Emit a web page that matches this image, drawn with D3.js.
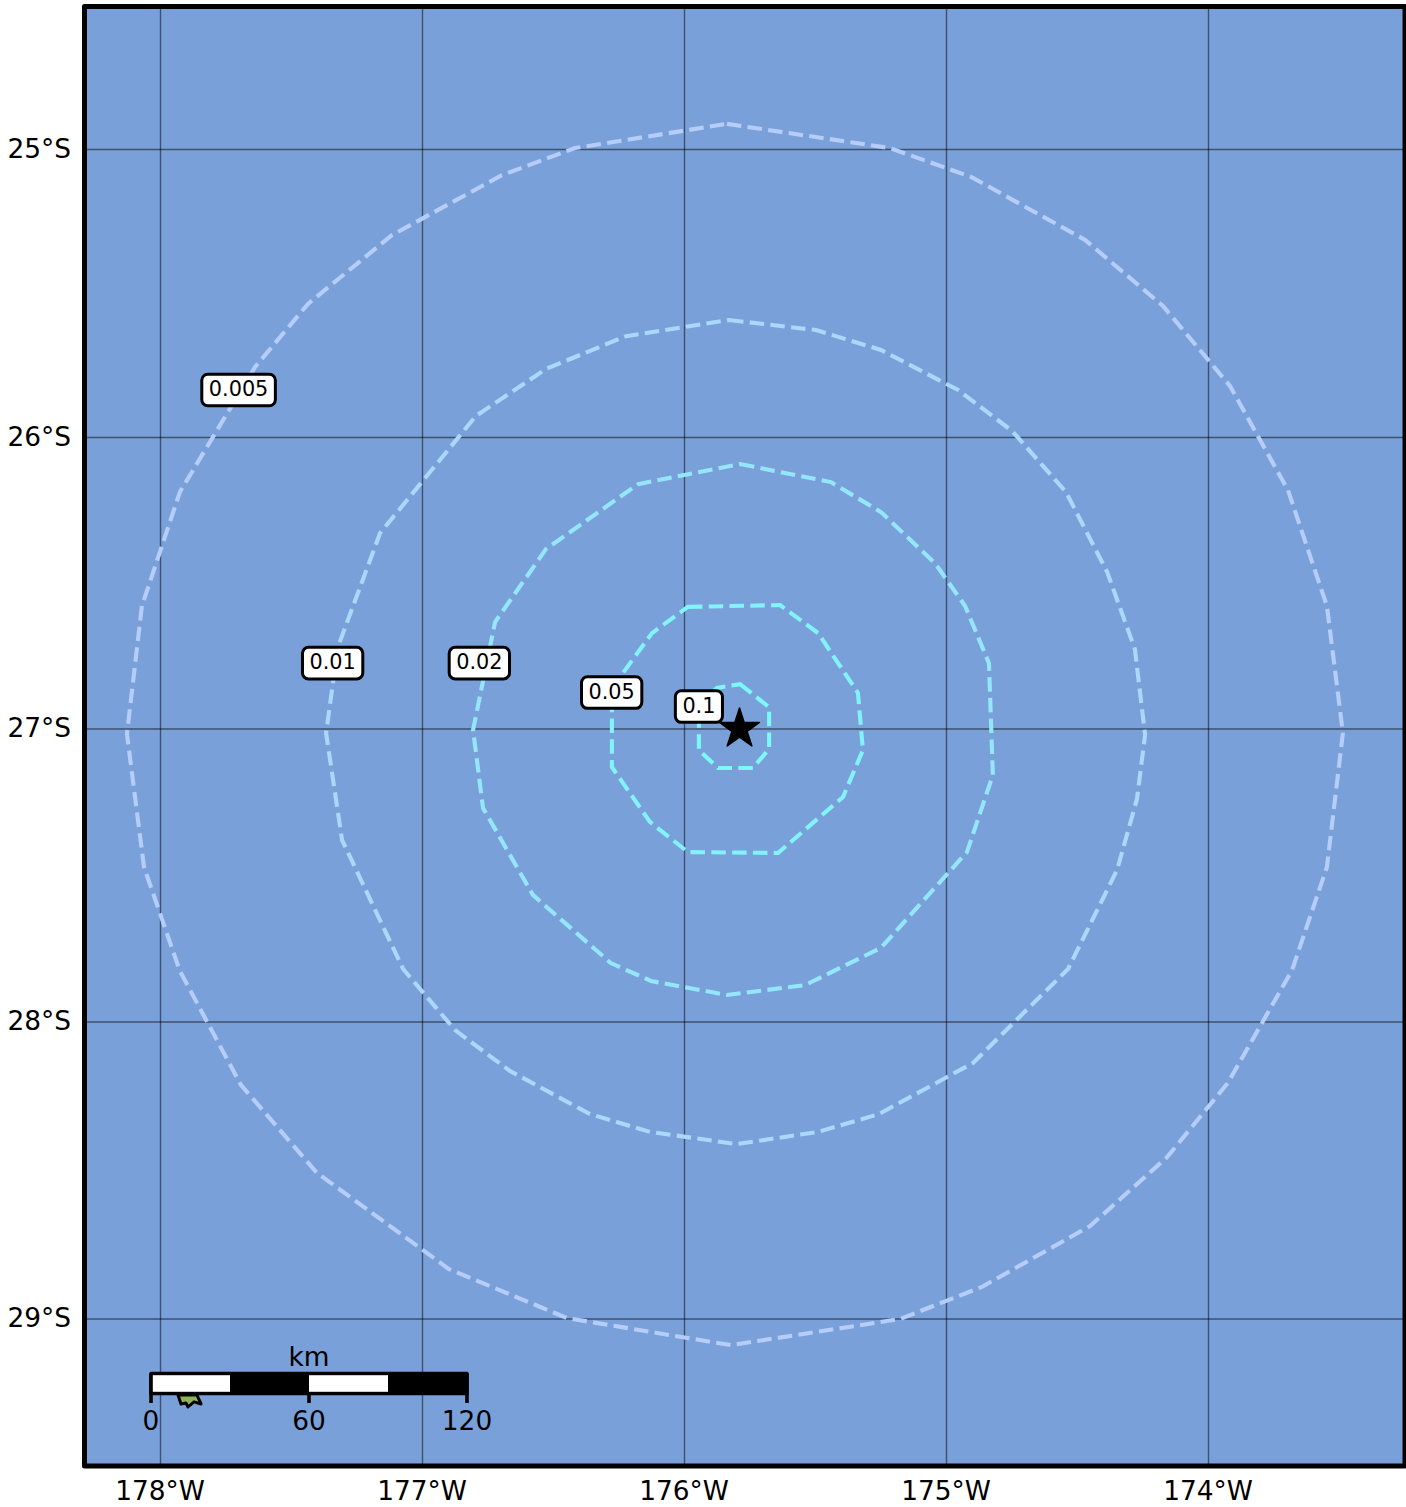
<!DOCTYPE html>
<html lang="en">
<head>
<meta charset="UTF-8">
<title>Contour map</title>
<script src="https://cdn.jsdelivr.net/npm/d3@7/dist/d3.min.js"></script>
<style>
    body { margin: 0; background: #fff; }
    svg { display: block; }
    text { font-family: "DejaVu Sans", sans-serif; fill: #000; }
</style>
</head>
<body>
<div id="chart"></div>
<script>
// tick positions in degrees
var lonTicks = [-178, -177, -176, -175, -174];
var latTicks = [-25, -26, -27, -28, -29];

// contour levels, outermost first
var levels = ["0.005", "0.01", "0.02", "0.05", "0.1"];
var levelColors = ["#b5cdf8", "#a9d8fb", "#94e6fc", "#82f2fc", "#7cf8fc"];

var lon005 = [-175.838,-175.216,-174.906,-174.471,-174.174,-173.918,-173.697,-173.548,-173.487,-173.548,-173.681,-173.926,-174.158,-174.452,-174.865,-175.177,-175.823,-176.448,-176.899,-177.403,-177.693,-177.926,-178.063,-178.128,-178.071,-177.926,-177.639,-177.437,-177.116,-176.697,-176.418];
var lat005 = [-24.911,-24.995,-25.095,-25.314,-25.543,-25.821,-26.180,-26.578,-27.014,-27.471,-27.823,-28.205,-28.455,-28.687,-28.892,-29.000,-29.088,-28.997,-28.832,-28.508,-28.212,-27.826,-27.471,-27.017,-26.578,-26.187,-25.755,-25.536,-25.297,-25.089,-24.995];

var lon01 = [-175.830,-175.498,-175.250,-174.956,-174.750,-174.544,-174.387,-174.281,-174.242,-174.273,-174.349,-174.536,-174.899,-175.258,-175.490,-175.800,-176.132,-176.361,-176.666,-176.876,-177.074,-177.307,-177.368,-177.323,-177.162,-176.796,-176.529,-176.223];
var lat01 = [-25.592,-25.627,-25.696,-25.835,-25.977,-26.187,-26.461,-26.726,-27.020,-27.239,-27.481,-27.819,-28.138,-28.310,-28.370,-28.411,-28.370,-28.310,-28.165,-28.027,-27.819,-27.379,-27.014,-26.719,-26.328,-25.925,-25.762,-25.648];

var lon02 = [-175.788,-175.441,-175.250,-175.044,-174.929,-174.838,-174.823,-174.922,-175.250,-175.540,-175.838,-176.128,-176.281,-176.578,-176.769,-176.807,-176.723,-176.529,-176.177];
var lat02 = [-26.091,-26.153,-26.256,-26.431,-26.578,-26.774,-27.157,-27.420,-27.747,-27.874,-27.908,-27.860,-27.799,-27.567,-27.270,-27.003,-26.633,-26.383,-26.160];

var lon05 = [-175.987,-175.635,-175.490,-175.338,-175.319,-175.395,-175.643,-175.987,-176.132,-176.277,-176.277,-176.235,-176.124];
var lat05 = [-26.581,-26.575,-26.671,-26.876,-27.072,-27.232,-27.423,-27.420,-27.317,-27.130,-26.935,-26.808,-26.671];

var lon1 = [-175.788,-175.677,-175.677,-175.739,-175.872,-175.945,-175.945,-175.876];
var lat1 = [-26.846,-26.925,-27.068,-27.133,-27.133,-27.072,-26.918,-26.859];

// where the inline level labels sit
var labelLon = [-177.702, -177.343, -176.783, -176.278, -175.945];
var labelLat = [-25.835, -26.774, -26.774, -26.875, -26.923];

// epicentre
var starLon = -175.79;
var starLat = -27.0;

// the bit of land poking out under the scale bar
var islandLon = [-177.933,-177.922,-177.903,-177.895,-177.872,-177.845,-177.861];
var islandLat = [-29.256,-29.286,-29.283,-29.296,-29.279,-29.286,-29.256];

// scale bar
var kmTicks = [0, 60, 120];
var kmWhite = [[0, 30], [60, 90]];

var width = 1406, height = 1507;
var frame = {left: 84.5, top: 6.5, right: 1405, bottom: 1466};

var x = d3.scaleLinear().domain([-178, -174]).range([160.5, 1208.5]);
// latitude spacing is not even on this projection, so one stop per grid line
var y = d3.scaleLinear().domain(latTicks).range([149.5, 437.5, 729, 1022, 1319]);
var km = d3.scaleLinear().domain([0, 120]).range([151, 467]);

var svg = d3.select("#chart").append("svg")
    .attr("width", width)
    .attr("height", height);

svg.append("rect")
    .attr("x", frame.left).attr("y", frame.top)
    .attr("width", frame.right - frame.left)
    .attr("height", frame.bottom - frame.top)
    .attr("fill", "#7aa0da");

// grid
svg.selectAll("line.vgrid").data(lonTicks).join("line")
    .attr("class", "vgrid")
    .attr("x1", d => x(d)).attr("x2", d => x(d))
    .attr("y1", frame.top).attr("y2", frame.bottom)
    .attr("stroke", "#000").attr("stroke-opacity", 0.5).attr("stroke-width", 1.4);

svg.selectAll("line.hgrid").data(latTicks).join("line")
    .attr("class", "hgrid")
    .attr("x1", frame.left).attr("x2", frame.right)
    .attr("y1", d => y(d)).attr("y2", d => y(d))
    .attr("stroke", "#000").attr("stroke-opacity", 0.5).attr("stroke-width", 1.4);

// island
svg.append("path")
    .datum(d3.zip(islandLon, islandLat))
    .attr("d", d3.line().x(d => x(d[0])).y(d => y(d[1])).curve(d3.curveLinearClosed))
    .attr("fill", "#8fb25a")
    .attr("stroke", "#000").attr("stroke-width", 3).attr("stroke-linejoin", "round");

// contours
var contours = [
    d3.zip(lon005, lat005),
    d3.zip(lon01, lat01),
    d3.zip(lon02, lat02),
    d3.zip(lon05, lat05),
    d3.zip(lon1, lat1)
];

var contourLine = d3.line()
    .x(d => x(d[0]))
    .y(d => y(d[1]))
    .curve(d3.curveLinearClosed);

svg.selectAll("path.contour").data(contours).join("path")
    .attr("class", "contour")
    .attr("d", contourLine)
    .attr("fill", "none")
    .attr("stroke", (d, i) => levelColors[i])
    .attr("stroke-width", 4.1)
    .attr("stroke-dasharray", "14.5 6.3");

// level labels
var labels = svg.selectAll("g.level").data(levels).join("g")
    .attr("class", "level")
    .attr("transform", (d, i) => `translate(${x(labelLon[i])},${y(labelLat[i])})`);

var labelRects = labels.append("rect")
    .attr("fill", "#fff")
    .attr("stroke", "#000")
    .attr("stroke-width", 3)
    .attr("rx", 6);

var labelTexts = labels.append("text")
    .attr("text-anchor", "middle")
    .attr("y", 6)
    .attr("font-size", "20.8px")
    .text(d => d);

labelRects.each(function (d, i) {
    var w = labelTexts.nodes()[i].getComputedTextLength() + 14;
    d3.select(this)
        .attr("x", -w / 2).attr("y", -15.8)
        .attr("width", w).attr("height", 31.6);
});

// star
svg.append("path")
    .attr("d", d3.symbol().type(d3.symbolStar).size(495))
    .attr("transform", `translate(${x(starLon)},${y(starLat)})`)
    .attr("fill", "#000")
    .attr("stroke", "#000").attr("stroke-width", 1.5).attr("stroke-linejoin", "round");

// scale bar
var barTop = 1373.5, barBottom = 1393.5;

svg.selectAll("line.kmtick").data(kmTicks).join("line")
    .attr("class", "kmtick")
    .attr("x1", d => km(d)).attr("x2", d => km(d))
    .attr("y1", barTop).attr("y2", 1403)
    .attr("stroke", "#000").attr("stroke-width", 3.6);

svg.append("rect")
    .attr("x", km(0)).attr("y", barTop)
    .attr("width", km(120) - km(0)).attr("height", barBottom - barTop)
    .attr("fill", "#000")
    .attr("stroke", "#000").attr("stroke-width", 3.4).attr("stroke-linejoin", "round");

svg.selectAll("rect.kmwhite").data(kmWhite).join("rect")
    .attr("class", "kmwhite")
    .attr("x", d => d[0] === 0 ? km(d[0]) + 1.8 : km(d[0]))
    .attr("y", 1375.2)
    .attr("width", d => km(d[1]) - km(d[0]) - (d[0] === 0 ? 1.8 : 0))
    .attr("height", 16.6)
    .attr("fill", "#fff");

svg.selectAll("text.kmlabel").data(kmTicks).join("text")
    .attr("class", "kmlabel")
    .attr("x", d => km(d)).attr("y", 1430)
    .attr("text-anchor", "middle")
    .attr("font-size", "26.4px")
    .text(d => d);

svg.append("text")
    .attr("x", km(60)).attr("y", 1366)
    .attr("text-anchor", "middle")
    .attr("font-size", "26.4px")
    .text("km");

// frame on top of everything in the map
svg.append("rect")
    .attr("x", frame.left).attr("y", frame.top)
    .attr("width", frame.right - frame.left)
    .attr("height", frame.bottom - frame.top)
    .attr("fill", "none")
    .attr("stroke", "#000").attr("stroke-width", 5).attr("stroke-linejoin", "round");

// axes, labels only
var xAxis = d3.axisBottom(x)
    .tickValues(lonTicks)
    .tickSize(0)
    .tickFormat(d => Math.abs(d) + "°W");

var yAxis = d3.axisLeft(y)
    .tickValues(latTicks)
    .tickSize(0)
    .tickFormat(d => Math.abs(d) + "°S");

var gx = svg.append("g").attr("transform", `translate(-1,${frame.bottom})`).call(xAxis);
gx.select("path.domain").remove();
gx.selectAll("text")
    .attr("y", 34).attr("dy", 0)
    .attr("font-family", "DejaVu Sans").attr("font-size", "26.4px");

var gy = svg.append("g").attr("transform", `translate(${frame.left},0)`).call(yAxis);
gy.select("path.domain").remove();
gy.selectAll("text")
    .attr("x", -13.5).attr("y", 7.5).attr("dy", 0)
    .attr("font-family", "DejaVu Sans").attr("font-size", "26.4px");
</script>
</body>
</html>
